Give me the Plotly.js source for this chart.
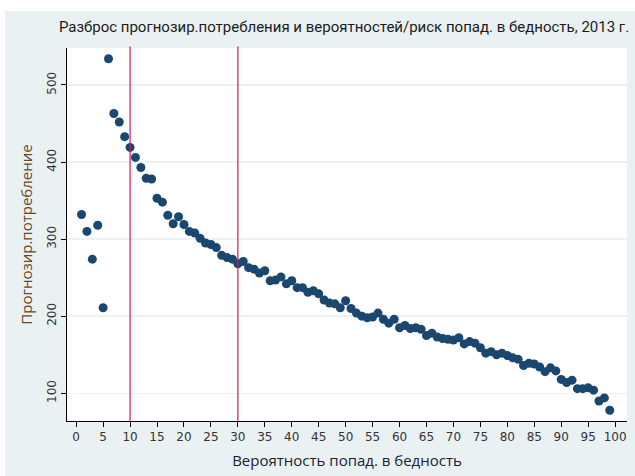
<!DOCTYPE html>
<html>
<head>
<meta charset="utf-8">
<script src="https://cdn.plot.ly/plotly-3.0.1.min.js"></script>
<style>html,body{margin:0;padding:0;background:#fff;}#chart{width:635px;height:476px;}</style>
</head>
<body>
<div id="chart"></div>
<script>
// Вероятность попад. в бедность (percentile of risk)
const riskPct = [1,2,3,4,5,6,7,8,9,10,11,12,13,14,15,16,17,18,19,20,
  21,22,23,24,25,26,27,28,29,30,31,32,33,34,35,36,37,38,39,40,
  41,42,43,44,45,46,47,48,49,50,51,52,53,54,55,56,57,58,59,60,
  61,62,63,64,65,66,67,68,69,70,71,72,73,74,75,76,77,78,79,80,
  81,82,83,84,85,86,87,88,89,90,91,92,93,94,95,96,97,98,99];
// Прогнозир.потребление
const predCons = [332,310,274,318,211,534,463,452,433,419,406,393,379,378,353,348,331,320,329,319,
  310,308,301,295,293,289,279,276,274,268,271,263,261,256,259,246,247,251,242,246,
  237,237,231,233,229,221,217,216,211,220,210,204,200,198,199,204,196,191,196,185,
  188,184,185,183,175,178,173,171,170,169,172,164,167,165,159,152,154,150,152,149,
  146,144,136,139,138,134,128,133,129,118,114,117,106,106,107,104,90,94,78];
const refLines = [10, 30];
const xTicks = [0,5,10,15,20,25,30,35,40,45,50,55,60,65,70,75,80,85,90,95,100];
const yTicks = [100,200,300,400,500];

const titleText = "Разброс прогнозир.потребления и вероятностей/риск попад. в бедность, 2013 г.";
const xTitle = "Вероятность попад. в бедность";
const yTitle = "Прогнозир.потребление";

const L = 67, R = 8, T = 48, B = 55, W = 635, H = 476;
const ph = H - T - B, pw = W - L - R;
const py = p => (H - B - p) / ph;   // pixel y -> paper y
const px = p => (p - L) / pw;       // pixel x -> paper x

const trace = {
  type: 'scatter', mode: 'markers',
  x: riskPct, y: predCons,
  marker: {color: '#1a476f', size: 9, line: {width: 0}},
  hoverinfo: 'x+y', showlegend: false
};

const shapes = refLines.map(v => ({
  type: 'line', xref: 'x', yref: 'paper', x0: v, x1: v, y0: 0, y1: 1.004,
  line: {color: '#d3175a', width: 1.2}, layer: 'above'
}));
// white strips at top and left edges
shapes.push({type:'rect', xref:'paper', yref:'paper', x0:px(0), x1:px(W), y0:py(11), y1:py(0),
  fillcolor:'#ffffff', line:{width:0}, layer:'below'});
shapes.push({type:'rect', xref:'paper', yref:'paper', x0:px(0), x1:px(5), y0:py(H), y1:py(0),
  fillcolor:'#ffffff', line:{width:0}, layer:'below'});

const layout = {
  width: W, height: H,
  margin: {l: L, r: R, t: T, b: B, pad: 0},
  paper_bgcolor: '#e9f1f3',
  plot_bgcolor: '#ffffff',
  title: {
    text: titleText,
    font: {family: 'Roboto, sans-serif', size: 15, color: '#1b1b1b'},
    x: px(344), xref: 'paper', xanchor: 'center',
    y: 1 - 27 / H, yref: 'container', yanchor: 'middle'
  },
  xaxis: {
    range: [-1.7, 102.2],
    tickmode: 'array', tickvals: xTicks, ticktext: xTicks.map(String),
    ticks: 'outside', ticklen: 5, tickwidth: 1, tickcolor: '#000',
    showline: true, linecolor: '#000', linewidth: 1,
    showgrid: false, zeroline: false,
    tickfont: {family: 'DejaVu Sans, sans-serif', size: 12, color: '#333'},
    title: {text: xTitle, standoff: 12,
      font: {family: 'Open Sans, sans-serif', size: 15, color: '#1c2030'}}
  },
  yaxis: {
    range: [64, 548],
    tickmode: 'array', tickvals: yTicks, ticktext: yTicks.map(String),
    tickangle: -90,
    ticks: 'outside', ticklen: 5, tickwidth: 1, tickcolor: '#000',
    showline: true, linecolor: '#000', linewidth: 1,
    showgrid: true, gridcolor: '#ecf2f3', gridwidth: 1.5,
    zeroline: false,
    tickfont: {family: 'DejaVu Sans, sans-serif', size: 12, color: '#333'},
    title: {text: yTitle, standoff: 8,
      font: {family: 'Open Sans, sans-serif', size: 15, color: '#6e4620'}}
  },
  shapes: shapes
};

Plotly.newPlot('chart', [trace], layout, {displayModeBar: false, staticPlot: true});
</script>
</body>
</html>
